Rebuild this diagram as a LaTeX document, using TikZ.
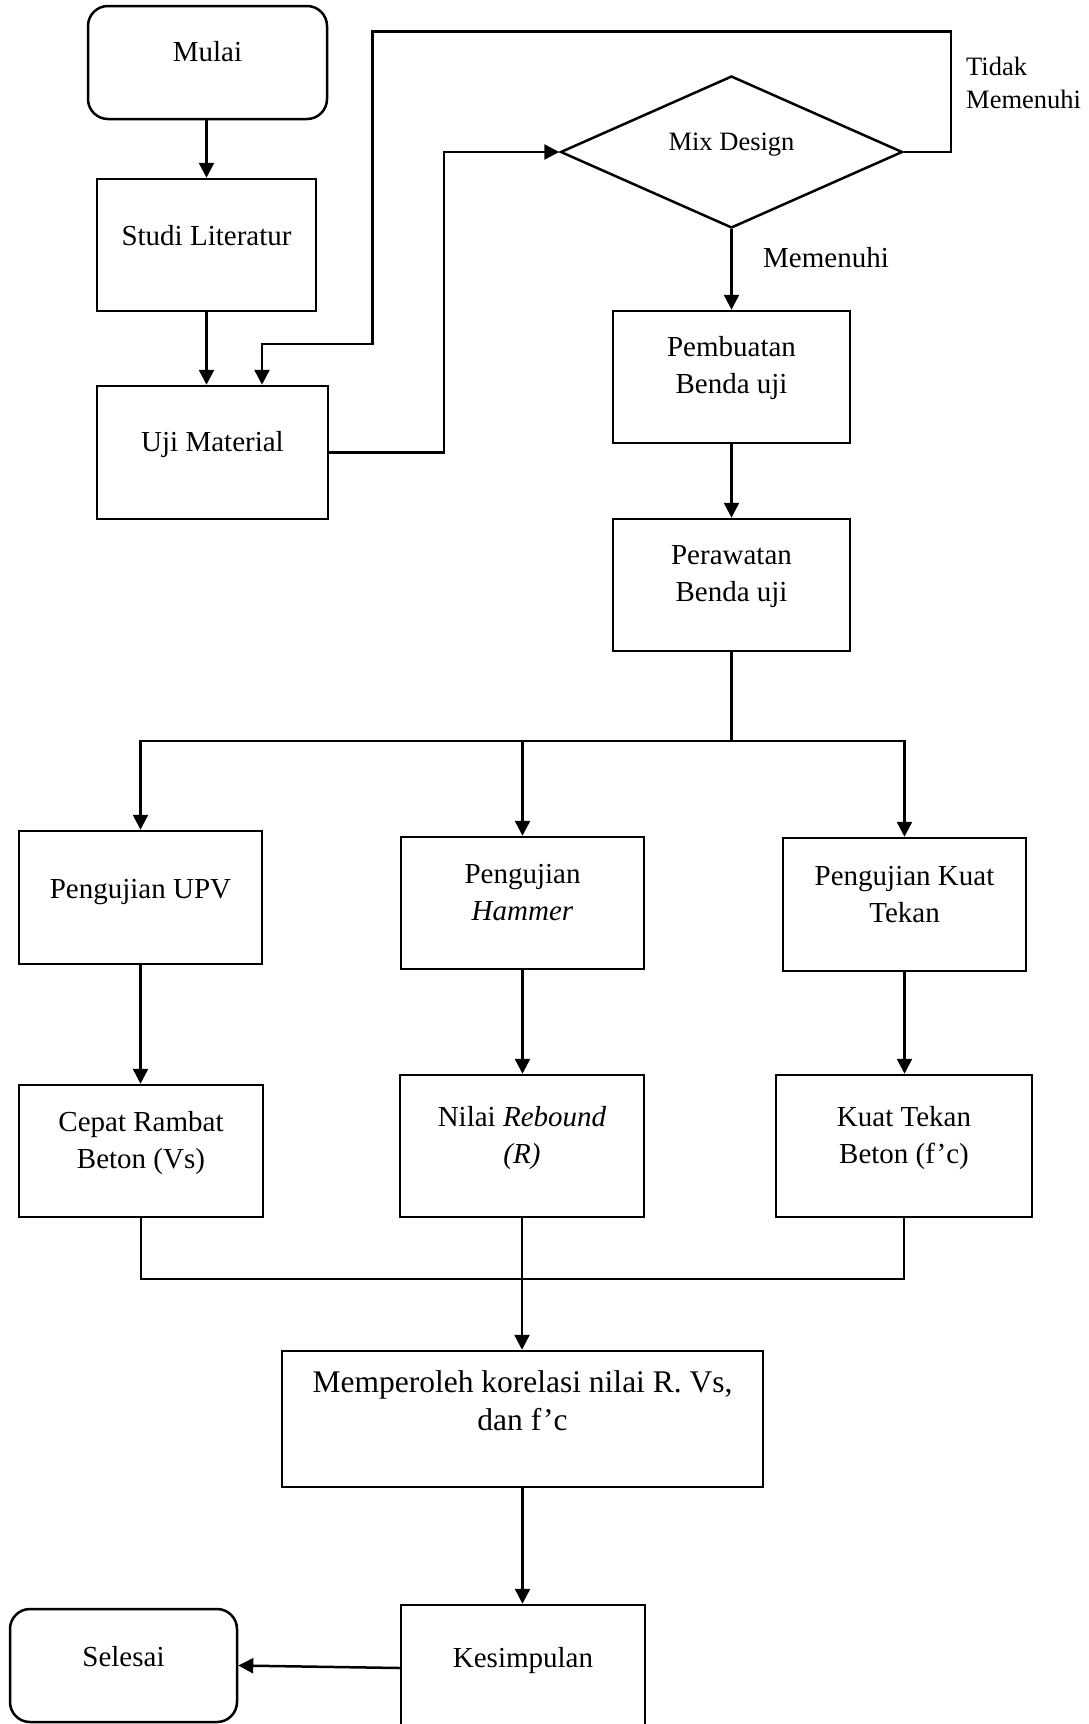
\documentclass[tikz,border=0pt]{standalone}
\usepackage{fontspec}
\setmainfont{Liberation Serif}
\usetikzlibrary{arrows.meta,shapes.geometric,calc}
\newcommand\fsbig{\fontsize{29}{37}\selectfont}
\newcommand\fsmem{\fontsize{31.5}{38}\selectfont}
\newcommand\fssmall{\fontsize{26.5}{33}\selectfont}
\tikzset{
  box/.style={draw, line width=2.5pt, rectangle, inner sep=0pt},
  rbox/.style={box, rounded corners=20pt},
  txt/.style={font=\fsbig, align=center, anchor=base, inner sep=0pt},
  stxt/.style={font=\fssmall, align=left, anchor=base west, inner sep=0pt},
  conn/.style={line width=2.5pt},
  arr/.style={conn, -{Triangle[length=15pt,width=15pt]}},
}
\begin{document}
\begin{tikzpicture}[x=1pt,y=-1pt]
\useasboundingbox (0,0) rectangle (1089,1724);
% boxes
\node[rbox, minimum width=239pt, minimum height=113pt] (mulai) at (207.5,62.5) {};
\node[box, minimum width=219pt, minimum height=132pt] (stud) at (206.5,245) {};
\node[box, minimum width=231pt, minimum height=133pt] (uji) at (212.5,452.5) {};
\node[draw, diamond, line width=2.5pt, inner sep=0pt, minimum width=342pt, minimum height=152pt] (mix) at (731.5,152) {};
\node[box, minimum width=237pt, minimum height=132pt] (pemb) at (731.5,377) {};
\node[box, minimum width=237pt, minimum height=132pt] (pera) at (731.5,585) {};
\node[box, minimum width=243pt, minimum height=133pt] (upv) at (140.5,897.5) {};
\node[box, minimum width=243pt, minimum height=132pt] (ham) at (522.5,903) {};
\node[box, minimum width=243pt, minimum height=133pt] (kuat) at (904.5,904.5) {};
\node[box, minimum width=244pt, minimum height=132pt] (cep) at (141,1151) {};
\node[box, minimum width=244pt, minimum height=142pt] (reb) at (522,1146) {};
\node[box, minimum width=256pt, minimum height=142pt] (kuatb) at (904,1146) {};
\node[box, minimum width=481pt, minimum height=136pt] (mem) at (522.5,1419) {};
\node[box, minimum width=244pt, minimum height=140pt] (kes) at (523,1675) {};
\node[rbox, minimum width=227pt, minimum height=113pt] (sel) at (123.5,1665.5) {};
% texts (anchor = baseline of the last line)
\node[txt] (mulaiT) at (207.5,61) {Mulai};
\node[txt] (studT) at (206.5,245) {Studi Literatur};
\node[txt] (ujiT) at (212.5,451) {Uji Material};
\node[txt, font=\fssmall] (mixT) at (731.5,150) {Mix Design};
\node[txt] (pembT) at (731.5,393) {Pembuatan\\Benda uji};
\node[txt] (peraT) at (731.5,601) {Perawatan\\Benda uji};
\node[txt] (upvT) at (140.5,898) {Pengujian UPV};
\node[txt] (hamT) at (522.5,920) {Pengujian\\\textit{Hammer}};
\node[txt] (kuatT) at (904.5,922) {Pengujian Kuat\\Tekan};
\node[txt] (cepT) at (141,1168) {Cepat Rambat\\Beton (Vs)};
\node[txt] (rebT) at (522,1163) {Nilai \textit{Rebound}\\\textit{(R)}};
\node[txt] (kuatbT) at (904,1163) {Kuat Tekan\\Beton (f’c)};
\node[txt, font=\fsmem] (memT) at (522.5,1430) {Memperoleh korelasi nilai R. Vs,\\dan f’c};
\node[txt] (kesT) at (523,1667) {Kesimpulan};
\node[txt] (selT) at (123.5,1666) {Selesai};
\node[stxt] (tidak) at (966,108) {Tidak\\Memenuhi};
\node[txt] (memenuhi) at (826,267) {Memenuhi};
% helper coordinates
\coordinate (loopA) at (951,31.5);
\coordinate (loopB) at (372.5,344);
\coordinate (loopC) at (262,344);
\coordinate (j1) at (444,152);
\coordinate (br) at (731.5,741);
\coordinate (mg) at (522,1279);
% connectors
\draw[arr] (mulai.south -| stud.north) -- (stud.north);
\draw[arr] (stud.south) -- (stud.south |- uji.north);
\draw[arr] (mix.east) -| (loopA) -| (loopB) -- (loopC) -- (loopC |- uji.north);
\draw[arr] (uji.east) -| (j1) -- (mix.west);
\draw[arr] (mix.south) -- (pemb.north);
\draw[arr] (pemb.south) -- (pera.north);
\draw[conn] (pera.south) -- (br);
\draw[arr] (br) -| (upv.north);
\draw[arr] (br) -| (kuat.north);
\draw[arr] (ham.north |- br) -- (ham.north);
\draw[arr] (upv.south) -- (upv.south |- cep.north);
\draw[arr] (ham.south) -- (ham.south |- reb.north);
\draw[arr] (kuat.south) -- (kuat.south |- kuatb.north);
\draw[conn] (cep.south) |- (mg) -| (kuatb.south);
\draw[arr] (reb.south) -- (reb.south |- mem.north);
\draw[arr] (mem.south) -- (mem.south |- kes.north);
\draw[arr] ([yshift=7pt]kes.west) -- (sel.east);
\end{tikzpicture}
\end{document}
